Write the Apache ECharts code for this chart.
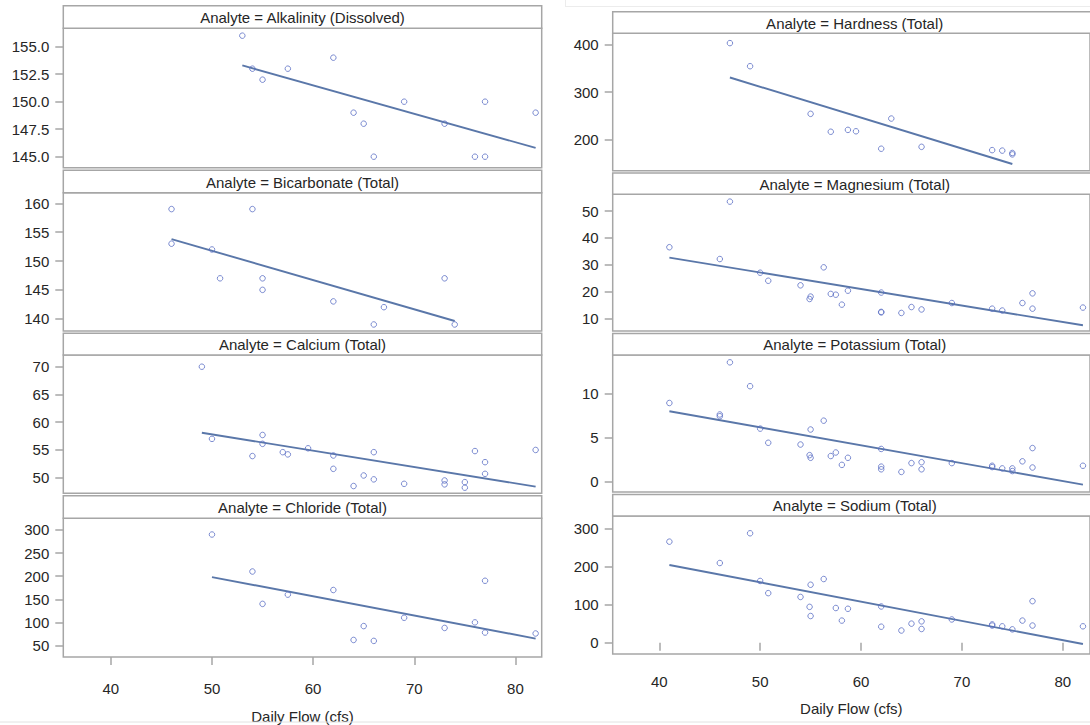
<!DOCTYPE html>
<html>
<head>
<meta charset="utf-8">
<script src="https://cdn.jsdelivr.net/npm/echarts@6.0.0/dist/echarts.min.js"></script>
<style>
  html, body { margin: 0; padding: 0; background: #fff; }
  #chart { width: 1090px; height: 725px; }
</style>
</head>
<body>
<div id="chart"></div>
<script>
// ---------------- DATA ----------------
const flowTicks = [40, 50, 60, 70, 80];
const xAxisTitle = 'Daily Flow (cfs)';

const alkalinityTitle = 'Analyte = Alkalinity (Dissolved)';
const alkalinityFlow  = [53, 54, 55, 57.5, 62, 64, 65, 66, 69, 73, 76, 77, 77, 82];
const alkalinityValue = [156, 153, 152, 153, 154, 149, 148, 145, 150, 148, 145, 150, 145, 149];
const alkalinityFitFlow  = [53, 82];
const alkalinityFitValue = [153.3, 145.8];
const alkalinityTicks = [145, 147.5, 150, 152.5, 155];

const bicarbonateTitle = 'Analyte = Bicarbonate (Total)';
const bicarbonateFlow  = [46, 46, 50, 50.8, 54, 55, 55, 62, 66, 67, 73, 74];
const bicarbonateValue = [159, 153, 152, 147, 159, 147, 145, 143, 139, 142, 147, 139];
const bicarbonateFitFlow  = [46, 74];
const bicarbonateFitValue = [153.8, 139.6];
const bicarbonateTicks = [140, 145, 150, 155, 160];

const calciumTitle = 'Analyte = Calcium (Total)';
const calciumFlow  = [49, 50, 54, 55, 55, 57, 57.5, 59.5, 62, 62, 64, 65, 66, 66, 69, 73, 73, 75, 75, 76, 77, 77, 82];
const calciumValue = [70, 57, 53.9, 57.7, 56.1, 54.6, 54.2, 55.3, 54.0, 51.6, 48.5, 50.4, 54.6, 49.7, 48.9, 49.5, 48.8, 49.2, 48.2, 54.8, 52.8, 50.7, 55];
const calciumFitFlow  = [49, 82];
const calciumFitValue = [58.1, 48.4];
const calciumTicks = [50, 55, 60, 65, 70];

const chlorideTitle = 'Analyte = Chloride (Total)';
const chlorideFlow  = [50, 54, 55, 57.5, 62, 64, 65, 66, 69, 73, 76, 77, 77, 82];
const chlorideValue = [290, 210, 140, 160, 170, 62, 92, 60, 110, 88, 100, 190, 78, 76];
const chlorideFitFlow  = [50, 82];
const chlorideFitValue = [198, 65];
const chlorideTicks = [50, 100, 150, 200, 250, 300];

const hardnessTitle = 'Analyte = Hardness (Total)';
const hardnessFlow  = [47, 49, 55, 57, 58.7, 59.5, 62, 63, 66, 73, 74, 75, 75];
const hardnessValue = [404, 355, 254, 216, 220, 217, 180, 244, 184, 177, 176, 171, 168];
const hardnessFitFlow  = [47, 75];
const hardnessFitValue = [331, 147.6];
const hardnessTicks = [200, 300, 400];

const magnesiumTitle = 'Analyte = Magnesium (Total)';
const magnesiumFlow  = [41, 46, 47, 50, 50.8, 54, 54.9, 55, 56.3, 57, 57.5, 58.1, 58.7, 62, 62, 62, 64, 65, 66, 69, 73, 74, 76, 77, 77, 82];
const magnesiumValue = [36.5, 32.1, 53.5, 27, 24, 22.3, 17.2, 18.1, 29, 19.1, 18.8, 15.1, 20.3, 19.6, 12.2, 12.4, 12, 14.2, 13.3, 15.7, 13.6, 12.9, 15.7, 19.3, 13.6, 14];
const magnesiumFitFlow  = [41, 82];
const magnesiumFitValue = [32.6, 7.4];
const magnesiumTicks = [10, 20, 30, 40, 50];

const potassiumTitle = 'Analyte = Potassium (Total)';
const potassiumFlow  = [41, 46, 46, 47, 49, 50, 50.8, 54, 54.9, 55, 55, 56.3, 57, 57.5, 58.1, 58.7, 62, 62, 62, 64, 65, 66, 66, 69, 73, 73, 74, 75, 75, 76, 77, 77, 82];
const potassiumValue = [8.9, 7.6, 7.4, 13.5, 10.8, 6.0, 4.4, 4.2, 3.0, 2.7, 5.9, 6.9, 2.9, 3.3, 1.9, 2.7, 3.7, 1.7, 1.4, 1.1, 2.1, 2.2, 1.4, 2.1, 1.8, 1.65, 1.5, 1.5, 1.2, 2.3, 3.8, 1.6, 1.8];
const potassiumFitFlow  = [41, 82];
const potassiumFitValue = [7.96, -0.34];
const potassiumTicks = [0, 5, 10];

const sodiumTitle = 'Analyte = Sodium (Total)';
const sodiumFlow  = [41, 46, 49, 50, 50.8, 54, 54.9, 55, 55, 56.3, 57.5, 58.1, 58.7, 62, 62, 64, 65, 66, 66, 69, 73, 73, 74, 75, 76, 77, 77, 82];
const sodiumValue = [265, 209, 287, 162, 130, 120, 94, 152, 70, 167, 91, 58, 89, 95, 42, 32, 50, 56, 36, 61, 48, 45, 43, 35, 58, 109, 45, 43];
const sodiumFitFlow  = [41, 82];
const sodiumFitValue = [203.8, -3.4];
const sodiumTicks = [0, 100, 200, 300];

// ---------------- LAYOUT ----------------
const columns = [
  { left: 63.3, width: 478.4, xMin: 35.3, xMax: 82.6, nameGap: 52, labelMargin: 24 },
  { left: 612.7, width: 484.0, xMin: 35.38, xMax: 82.7, nameGap: 47, labelMargin: 20 }
];

const panels = [
  { title: alkalinityTitle, x: alkalinityFlow, y: alkalinityValue, fx: alkalinityFitFlow, fy: alkalinityFitValue, ticks: alkalinityTicks, dec: 1,
    col: 0, hTop: 5.7, pTop: 28.3, pBot: 167.7, yMin: 144.0, yMax: 156.67, bottom: false },
  { title: bicarbonateTitle, x: bicarbonateFlow, y: bicarbonateValue, fx: bicarbonateFitFlow, fy: bicarbonateFitValue, ticks: bicarbonateTicks, dec: 0,
    col: 0, hTop: 170.3, pTop: 192.7, pBot: 331, yMin: 137.87, yMax: 161.84, bottom: false },
  { title: calciumTitle, x: calciumFlow, y: calciumValue, fx: calciumFitFlow, fy: calciumFitValue, ticks: calciumTicks, dec: 0,
    col: 0, hTop: 333.3, pTop: 355, pBot: 493.3, yMin: 47.19, yMax: 72.11, bottom: false },
  { title: chlorideTitle, x: chlorideFlow, y: chlorideValue, fx: chlorideFitFlow, fy: chlorideFitValue, ticks: chlorideTicks, dec: 0,
    col: 0, hTop: 495.7, pTop: 518.3, pBot: 658.3, yMin: 25.15, yMax: 325.06, bottom: true },
  { title: hardnessTitle, x: hardnessFlow, y: hardnessValue, fx: hardnessFitFlow, fy: hardnessFitValue, ticks: hardnessTicks, dec: 0,
    col: 1, hTop: 11.7, pTop: 33.3, pBot: 170.7, yMin: 133.4, yMax: 424.8, bottom: false },
  { title: magnesiumTitle, x: magnesiumFlow, y: magnesiumValue, fx: magnesiumFitFlow, fy: magnesiumFitValue, ticks: magnesiumTicks, dec: 0,
    col: 1, hTop: 173.0, pTop: 194.3, pBot: 331, yMin: 5.27, yMax: 56.23, bottom: false },
  { title: potassiumTitle, x: potassiumFlow, y: potassiumValue, fx: potassiumFitFlow, fy: potassiumFitValue, ticks: potassiumTicks, dec: 0,
    col: 1, hTop: 333.5, pTop: 355, pBot: 492, yMin: -1.17, yMax: 14.33, bottom: false },
  { title: sodiumTitle, x: sodiumFlow, y: sodiumValue, fx: sodiumFitFlow, fy: sodiumFitValue, ticks: sodiumTicks, dec: 0,
    col: 1, hTop: 494.5, pTop: 516, pBot: 654, yMin: -29.6, yMax: 332.3, bottom: true }
];

const FONT = '"Liberation Sans", Arial, Helvetica, sans-serif';
const FRAME = '#a6a6a6';
const TEXT = '#262626';
const MARKER = '#5a6ec4';
const FITLINE = '#5a77a9';

const grid = [], xAxis = [], yAxis = [], series = [], graphic = [];

panels.forEach((p, i) => {
  const c = columns[p.col];
  grid.push({
    left: c.left, top: p.pTop, width: c.width, height: p.pBot - p.pTop,
    show: true, borderColor: FRAME, borderWidth: 1.5, backgroundColor: '#fff', containLabel: false
  });
  xAxis.push({
    type: 'value', gridIndex: i, min: c.xMin, max: c.xMax,
    axisLine: { show: false },
    splitLine: { show: false },
    axisTick: { show: p.bottom, customValues: flowTicks, length: 8, lineStyle: { color: FRAME, width: 1.5 } },
    axisLabel: { show: p.bottom, customValues: flowTicks, fontSize: 15, fontFamily: FONT, color: TEXT, margin: c.labelMargin },
    name: p.bottom ? xAxisTitle : '',
    nameLocation: 'middle', nameGap: c.nameGap,
    nameTextStyle: { fontSize: 15, fontFamily: FONT, color: TEXT }
  });
  yAxis.push({
    type: 'value', gridIndex: i, min: p.yMin, max: p.yMax,
    axisLine: { show: false },
    splitLine: { show: false },
    axisTick: { show: true, customValues: p.ticks, length: 8, lineStyle: { color: FRAME, width: 1.5 } },
    axisLabel: {
      customValues: p.ticks, fontSize: 15, fontFamily: FONT, color: TEXT, margin: 14,
      formatter: (v) => Number(v).toFixed(p.dec)
    }
  });
  series.push({
    type: 'line', xAxisIndex: i, yAxisIndex: i,
    data: p.fx.map((v, k) => [v, p.fy[k]]),
    symbol: 'none', lineStyle: { color: FITLINE, width: 1.9 }, z: 2, silent: true
  });
  series.push({
    type: 'scatter', xAxisIndex: i, yAxisIndex: i,
    data: p.x.map((v, k) => [v, p.y[k]]),
    symbol: 'circle', symbolSize: 5.5,
    itemStyle: { color: 'rgba(0,0,0,0)', borderColor: MARKER, borderWidth: 1 }, z: 3
  });
  // header strip
  graphic.push({
    type: 'rect', z: 10,
    shape: { x: c.left, y: p.hTop, width: c.width, height: p.pTop - p.hTop },
    style: { fill: '#fff', stroke: FRAME, lineWidth: 1.5 }
  });
  graphic.push({
    type: 'text', z: 11,
    x: c.left + c.width / 2, y: (p.hTop + p.pTop) / 2 + 0.5,
    style: { text: p.title, fontSize: 15, fontFamily: FONT, fill: TEXT, align: 'center', verticalAlign: 'middle' }
  });
});

// faint borders of the pasted images
graphic.push({ type: 'line', z: 1, shape: { x1: 565, y1: 6.5, x2: 1090, y2: 6.5 }, style: { stroke: '#ececec', lineWidth: 1 } });
graphic.push({ type: 'line', z: 1, shape: { x1: 565.5, y1: 0, x2: 565.5, y2: 6.5 }, style: { stroke: '#ececec', lineWidth: 1 } });
graphic.push({ type: 'line', z: 1, shape: { x1: 0, y1: 722, x2: 1090, y2: 722 }, style: { stroke: '#e2e2e2', lineWidth: 1 } });

const chart = echarts.init(document.getElementById('chart'), null, { renderer: 'svg' });
chart.setOption({
  animation: false,
  backgroundColor: '#fff',
  grid, xAxis, yAxis, series, graphic
});
</script>
</body>
</html>
